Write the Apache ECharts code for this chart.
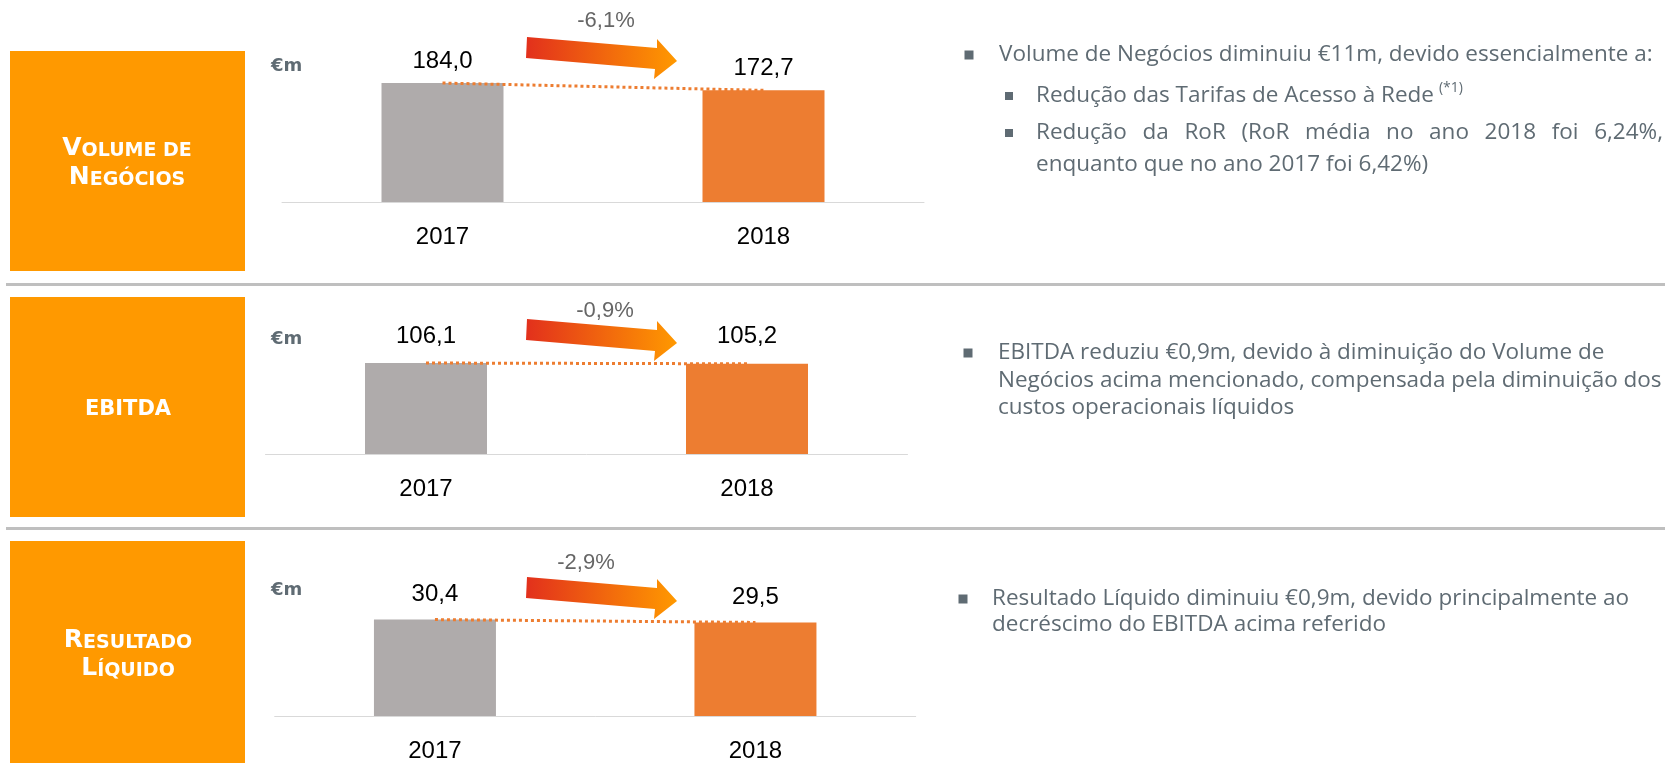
<!DOCTYPE html>
<html>
<head>
<meta charset="utf-8">
<script src="https://cdn.jsdelivr.net/npm/echarts@6/dist/echarts.min.js"></script>
<style>
  html, body { margin: 0; padding: 0; background: #fff; }
  #chart { width: 1665px; height: 763px; }
</style>
</head>
<body>
<div id="chart"></div>
<script>
// dados
const years = ['2017', '2018'];
const volumeNegocios = [184.0, 172.7];
const ebitda = [106.1, 105.2];
const resultadoLiquido = [30.4, 29.5];
const variacao = ['-6,1%', '-0,9%', '-2,9%'];

const GREY_BAR = '#AFABAB';
const ORANGE_BAR = '#ED7D31';
const BOX = '#FF9900';
const TXT = '#5F6B73';
const NUM_FONT = 'Liberation Sans';
const BODY_FONT = 'Open Sans';
const BODY_SIZE = 22.5;

// layout of the three panels (pixels)
const panels = [
  { values: volumeNegocios, left: 282, width: 642, top: 72.7, height: 129.3, max: 200, labelDist: 10, dy: 0,   pct: [606, 21],  em: 66,  box: [51, 220] },
  { values: ebitda,         left: 265.5, width: 642, top: 351.1, height: 102.9, max: 120, labelDist: 15, dy: 282, pct: [605, 311], em: 339, box: [297, 220] },
  { values: resultadoLiquido, left: 274.7, width: 641, top: 605, height: 114, max: 35, labelDist: 13, dy: 540, pct: [586, 563], em: 590, box: [541, 222] }
];

const fmt = v => v.toFixed(1).replace('.', ',');

const measureCtx = document.createElement('canvas').getContext('2d');
function measure(text, size, family, weight) {
  measureCtx.font = (weight || 'normal') + ' ' + size + 'px "' + family + '"';
  return measureCtx.measureText(text).width;
}

function txt(x, y, text, opts) {
  opts = opts || {};
  return {
    type: 'text', x: x, y: y, silent: true,
    style: {
      text: text,
      fill: opts.fill || TXT,
      fontSize: opts.size || BODY_SIZE,
      fontFamily: opts.family || BODY_FONT,
      fontWeight: opts.weight || 'normal',
      textAlign: opts.align || 'left',
      textVerticalAlign: 'middle',
      rich: opts.rich
    }
  };
}

function bullet(cx, cy, s) {
  return { type: 'rect', silent: true, shape: { x: cx - s / 2, y: cy - s / 2, width: s, height: s }, style: { fill: TXT } };
}

// espalha as palavras entre x0 e x1 (texto justificado)
function justified(x0, x1, y, line) {
  const words = line.split(' ');
  const widths = words.map(w => measure(w, BODY_SIZE, BODY_FONT));
  const gap = (x1 - x0 - widths.reduce((a, b) => a + b, 0)) / (words.length - 1);
  const out = [];
  let x = x0;
  words.forEach((w, i) => {
    out.push(txt(x, y, w));
    x += widths[i] + gap;
  });
  return out;
}

const arrowPts = [[527, 37], [657, 48], [657, 39], [677, 61], [654, 79], [655, 69], [526, 58]];

const graphic = [];
// separadores
graphic.push({ type: 'rect', silent: true, shape: { x: 6, y: 283, width: 1659, height: 3 }, style: { fill: '#BFBFBF' } });
graphic.push({ type: 'rect', silent: true, shape: { x: 6, y: 527, width: 1659, height: 3 }, style: { fill: '#BFBFBF' } });

panels.forEach((p, i) => {
  graphic.push({ type: 'rect', silent: true, shape: { x: 10, y: p.box[0], width: 235, height: p.box[1] }, style: { fill: BOX } });
  graphic.push(txt(271, p.em, '€m', { size: 18, family: 'DejaVu Sans', weight: 'bold' }));
  graphic.push({
    type: 'polygon', silent: true,
    shape: { points: arrowPts.map(pt => [pt[0], pt[1] + p.dy]) },
    style: {
      fill: new echarts.graphic.LinearGradient(0, 0, 1, 0, [
        { offset: 0, color: '#E2301C' },
        { offset: 1, color: '#FF9900' }
      ])
    }
  });
  graphic.push(txt(p.pct[0], p.pct[1], variacao[i], { size: 22, family: NUM_FONT, fill: '#666666', align: 'center' }));
});

// titulos nas caixas (small caps)
const capsRich = {
  b: { fontSize: 25, fontFamily: 'DejaVu Sans', fontWeight: 'bold', color: '#fff', verticalAlign: 'bottom', lineHeight: 25 },
  s: { fontSize: 19, fontFamily: 'DejaVu Sans', fontWeight: 'bold', color: '#fff', verticalAlign: 'bottom', lineHeight: 25 }
};
graphic.push(txt(127, 148, '{b|V}{s|OLUME DE}', { align: 'center', rich: capsRich, fill: '#fff' }));
graphic.push(txt(127, 177, '{b|N}{s|EGÓCIOS}', { align: 'center', rich: capsRich, fill: '#fff' }));
graphic.push(txt(128, 410, 'EBITDA', { size: 21, family: 'DejaVu Sans', weight: 'bold', fill: '#fff', align: 'center' }));
graphic.push(txt(128, 640, '{b|R}{s|ESULTADO}', { align: 'center', rich: capsRich, fill: '#fff' }));
graphic.push(txt(128, 668, '{b|L}{s|ÍQUIDO}', { align: 'center', rich: capsRich, fill: '#fff' }));

// texto à direita - painel 1
graphic.push(bullet(969, 55, 9));
graphic.push(txt(999, 55, 'Volume de Negócios diminuiu €11m, devido essencialmente a:'));
graphic.push(bullet(1009, 96, 8));
const l2 = 'Redução das Tarifas de Acesso à Rede';
graphic.push(txt(1036, 96, l2));
graphic.push(txt(1036 + measure(l2, BODY_SIZE, BODY_FONT) + 5, 88, '(*1)', { size: 14 }));
graphic.push(bullet(1009, 133, 8));
justified(1036, 1663, 133, 'Redução da RoR (RoR média no ano 2018 foi 6,24%,').forEach(e => graphic.push(e));
graphic.push(txt(1036, 165, 'enquanto que no ano 2017 foi 6,42%)'));

// painel 2
graphic.push(bullet(968, 353, 9));
graphic.push(txt(998, 353, 'EBITDA reduziu €0,9m, devido à diminuição do Volume de'));
graphic.push(txt(998, 381, 'Negócios acima mencionado, compensada pela diminuição dos'));
graphic.push(txt(998, 408, 'custos operacionais líquidos'));

// painel 3
graphic.push(bullet(963, 599, 9));
graphic.push(txt(992, 599, 'Resultado Líquido diminuiu €0,9m, devido principalmente ao'));
graphic.push(txt(992, 625, 'decréscimo do EBITDA acima referido'));

const chart = echarts.init(document.getElementById('chart'));
const option = {
  animation: false,
  grid: panels.map(p => ({ left: p.left, top: p.top, width: p.width, height: p.height, containLabel: false })),
  xAxis: panels.map((p, i) => ({
    type: 'category',
    gridIndex: i,
    data: years,
    axisLine: { lineStyle: { color: '#D9D9D9', width: 1 } },
    axisTick: { show: false },
    axisLabel: { fontSize: 24, fontFamily: NUM_FONT, color: '#000', margin: 23 }
  })),
  yAxis: panels.map((p, i) => ({
    type: 'value', gridIndex: i, min: 0, max: p.max, show: false, splitLine: { show: false }
  })),
  series: [],
  graphic: graphic
};

panels.forEach((p, i) => {
  option.series.push({
    type: 'bar',
    xAxisIndex: i,
    yAxisIndex: i,
    barWidth: 122,
    data: p.values,
    itemStyle: { color: params => params.dataIndex === 0 ? GREY_BAR : ORANGE_BAR },
    label: {
      show: true,
      position: 'top',
      distance: p.labelDist,
      fontSize: 24,
      fontFamily: NUM_FONT,
      color: '#000',
      formatter: params => fmt(params.value)
    },
    z: 2
  });
  option.series.push({
    type: 'line',
    xAxisIndex: i,
    yAxisIndex: i,
    data: p.values,
    symbol: 'none',
    lineStyle: { color: ORANGE_BAR, width: 3, type: [3, 3] },
    z: 3
  });
});

chart.setOption(option);
</script>
</body>
</html>
